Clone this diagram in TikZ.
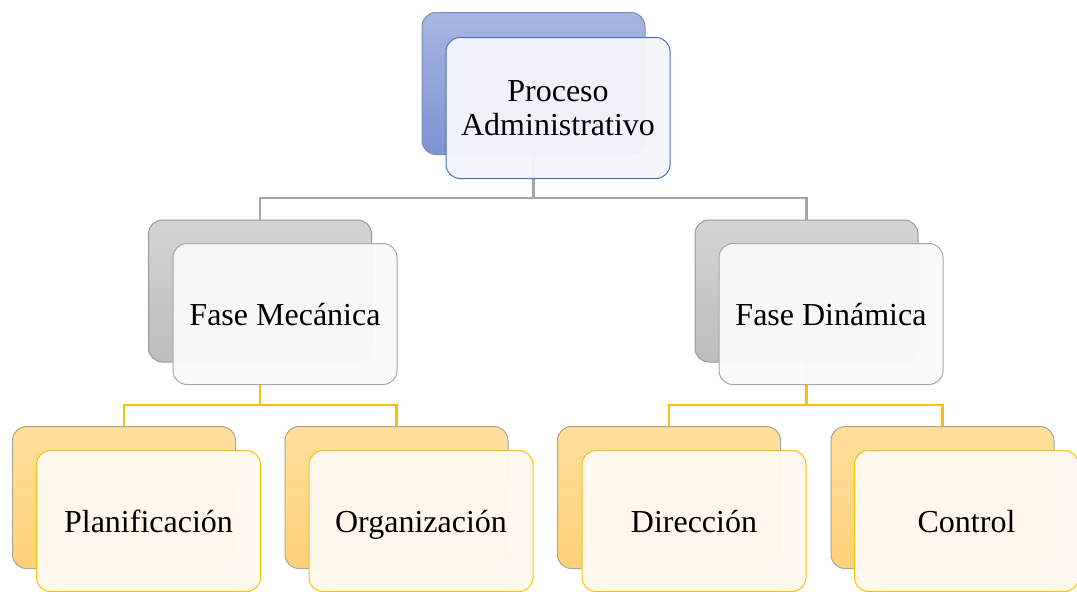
\documentclass[tikz,border=0pt]{standalone}
\usepackage{fontspec}
\setmainfont{Liberation Serif}
\newfontfamily\tnrfont{Liberation Serif}
\definecolor{blueTop}{HTML}{A7B6E2}
\definecolor{blueBot}{HTML}{7C94D2}
\definecolor{blueLine}{HTML}{4472C4}
\definecolor{blueFill}{HTML}{F3F5FB}
\definecolor{grayTop}{HTML}{D4D4D4}
\definecolor{grayBot}{HTML}{BDBDBD}
\definecolor{grayLine}{HTML}{A6A6A6}
\definecolor{grayFill}{HTML}{F9F9F9}
\definecolor{orTop}{HTML}{FFDF9C}
\definecolor{orBot}{HTML}{FFD177}
\definecolor{orLine}{HTML}{FFC000}
\definecolor{orFill}{HTML}{FFF9F0}
\definecolor{connGray}{HTML}{A5A5A5}
\begin{document}
\begin{tikzpicture}[x=1pt,y=-1pt,
  backbox/.style={rectangle,rounded corners=14pt,inner sep=0pt,minimum width=223pt,minimum height=142pt,draw=black!45,line width=1pt},
  frontbox/.style={rectangle,rounded corners=14pt,inner sep=0pt,minimum width=224pt,minimum height=141pt,line width=1pt,fill opacity=0.97,text opacity=1,align=center,font=\tnrfont\fontsize{32}{34}\selectfont},
  oneline/.style={text height=22pt,text depth=0pt},
  lvlA/.style={backbox,top color=blueTop,bottom color=blueBot,draw=blueBot!60!black!70},
  lvlAf/.style={frontbox,fill=blueFill,draw=blueLine},
  lvlB/.style={backbox,top color=grayTop,bottom color=grayBot,draw=black!40},
  lvlBf/.style={frontbox,oneline,fill=grayFill,draw=grayLine},
  lvlC/.style={backbox,top color=orTop,bottom color=orBot,draw=black!35},
  lvlCf/.style={frontbox,oneline,fill=orFill,draw=orLine},
  conn/.style={line width=2.6pt}
]
\useasboundingbox (0,0) rectangle (1077,592);
% back boxes
\node[lvlA] (b0) at (533.5,83.5) {};
\node[lvlB] (b1) at (260,291) {};
\node[lvlB] (b2) at (806.5,291) {};
\node[lvlC] (b3) at (124,497.5) {};
\node[lvlC] (b4) at (396.5,497.5) {};
\node[lvlC] (b5) at (669,497.5) {};
\node[lvlC] (b6) at (942.5,497.5) {};
% connectors
\draw[conn,connGray] (b0.south) -- (533.5,198) -| (b1.north);
\draw[conn,connGray] (533.5,198) -| (b2.north);
\draw[conn,orLine] (b1.south) -- (260,405) -| (b3.north);
\draw[conn,orLine] (260,405) -| (b4.north);
\draw[conn,orLine] (b2.south) -- (806.5,405) -| (b5.north);
\draw[conn,orLine] (806.5,405) -| (b6.north);
% front boxes
\node[lvlAf] (f0) at (558,108) {Proceso\\Administrativo};
\node[lvlBf] (f1) at (285,314) {Fase Mecánica};
\node[lvlBf] (f2) at (831,314) {Fase Dinámica};
\node[lvlCf] (f3) at (148.5,521) {Planificación};
\node[lvlCf] (f4) at (421,521) {Organización};
\node[lvlCf] (f5) at (694,521) {Dirección};
\node[lvlCf] (f6) at (966.5,521) {Control};
\end{tikzpicture}
\end{document}
